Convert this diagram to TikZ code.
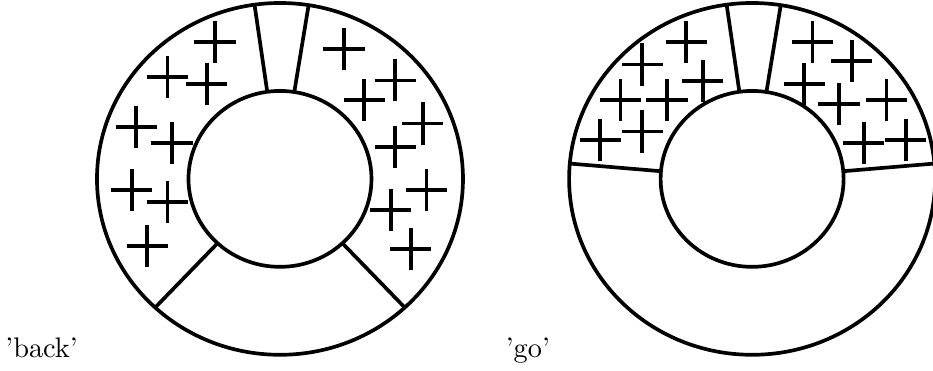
\documentclass[tikz,border=0pt]{standalone}
\usepackage{tikz}

\begin{document}
\begin{tikzpicture}[x=1.136cm, y=1.092cm, line width=1.3pt]
	\useasboundingbox (-3.06,-2.182) rectangle (7.137,2.034);
	\begin{scope}
		\draw (0,0) circle (2); \draw (0,0) circle (1);
		\draw (98:1) -- (98:2); \draw (81:1) -- (81:2);
		\draw (227:1) -- (227:2); \draw (313:1) -- (313:2);
		\foreach \px/\py in {-0.71/1.56, -1.23/1.16, -0.80/1.08, -1.57/0.59, -1.18/0.41, -1.62/-0.13, -1.23/-0.26, -1.45/-0.76,
			0.70/1.48, 1.26/1.12, 0.92/0.90, 1.56/0.63, 1.26/0.36, 1.60/-0.13, 1.21/-0.35, 1.43/-0.80}
			\draw (\px-0.225,\py) -- (\px+0.225,\py) (\px,\py-0.24) -- (\px,\py+0.24);
		\node[anchor=base east, inner sep=0pt] (back) at (-2.19,-2.03) {'back'};
	\end{scope}
	\begin{scope}[shift={(5.16,0)}]
		\draw (0,0) circle (2); \draw (0,0) circle (1);
		\draw (98:1) -- (98:2); \draw (81:1) -- (81:2);
		\draw (175:1) -- (175:2); \draw (5:1) -- (5:2);
		\foreach \px/\py in {-0.72/1.56, -1.20/1.30, -0.54/1.11, -1.44/0.90, -0.93/0.90, -1.20/0.54, -1.66/0.44,
			0.66/1.56, 1.09/1.34, 0.57/1.08, 0.95/0.85, 1.47/0.90, 1.22/0.41, 1.68/0.44}
			\draw (\px-0.225,\py) -- (\px+0.225,\py) (\px,\py-0.24) -- (\px,\py+0.24);
		\node[anchor=base east, inner sep=0pt] (go) at (-2.19,-2.03) {'go'};
	\end{scope}
\end{tikzpicture}
\end{document}
